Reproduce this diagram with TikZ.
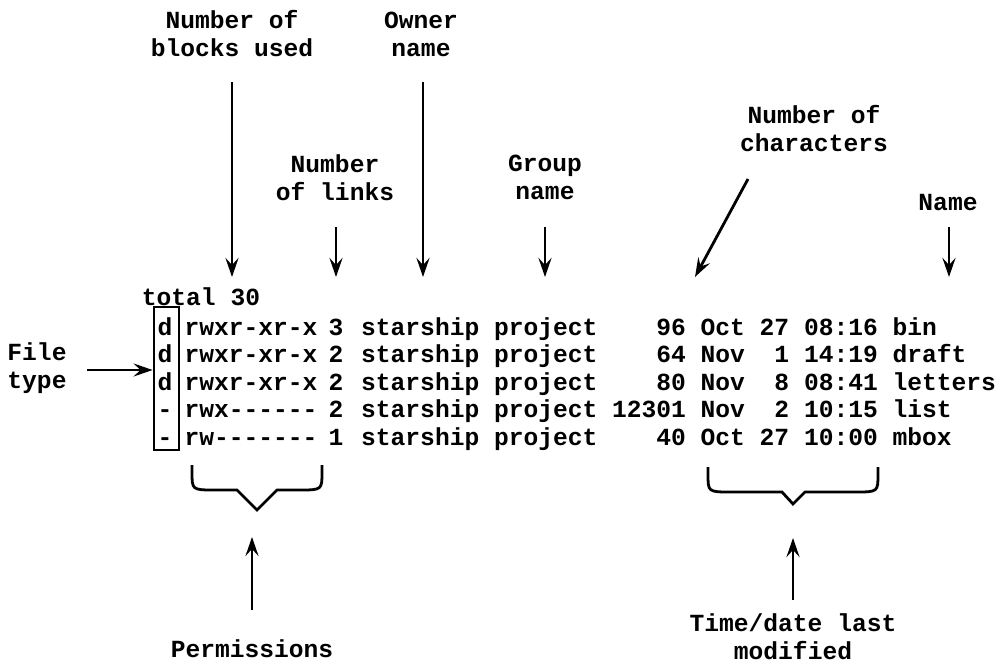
\documentclass[tikz,border=0pt]{standalone}
\usepackage{fontspec}
\setmonofont{Liberation Mono}
\usetikzlibrary{arrows.meta}
\frenchspacing
\tikzset{
  mono/.style={font=\ttfamily\bfseries\fontsize{24.6}{28}\selectfont, inner sep=0pt, text=black},
  note/.style={mono, align=center},
  cell/.style={mono, anchor=base},
  row/.style={mono, anchor=base west},
  arr/.style={line width=2.8pt, -{Stealth[length=19pt,width=13pt,inset=7pt]}},
  bracket/.style={line width=2.8pt},
  typebox/.style={draw, line width=2.8pt, minimum width=25pt, minimum height=143pt, inner sep=0pt}
}
\begin{document}
\begin{tikzpicture}[x=1pt,y=-1pt]
\useasboundingbox (0,0) rectangle (1005,666);

% column captions
\node[note] (lblBlocks) at (232,34)  {Number of\\blocks used};
\node[note] (lblOwner)  at (421,34)  {Owner\\name};
\node[note] (lblLinks)  at (335,178) {Number\\of links};
\node[note] (lblGroup)  at (545,177) {Group\\name};
\node[note] (lblChars)  at (814,129) {Number of\\characters};
\node[note] (lblName)   at (948,203) {Name};
\node[note] (lblType)   at (37,368)  {File\\type};
\node[note] (lblPerm)   at (252,649) {Permissions};
\node[note] (lblTime)   at (793,637) {Time/date last\\modified};

% ls -l listing
\node[cell] (tot) at (201,305) {total 30};

\node[cell] (ft1) at (165,335)   {d};
\node[cell] (ft2) at (165,362.5) {d};
\node[cell] (ft3) at (165,390)   {d};
\node[cell] (ft4) at (165,417.5) {-};
\node[cell] (ft5) at (165,445)   {-};

\node[cell] (pm1) at (251,335)   {rwxr-xr-x};
\node[cell] (pm2) at (251,362.5) {rwxr-xr-x};
\node[cell] (pm3) at (251,390)   {rwxr-xr-x};
\node[cell] (pm4) at (251,417.5) {rwx------};
\node[cell] (pm5) at (251,445)   {rw-------};

\node[cell] (lk1) at (336,335)   {3};
\node[cell] (lk2) at (336,362.5) {2};
\node[cell] (lk3) at (336,390)   {2};
\node[cell] (lk4) at (336,417.5) {2};
\node[cell] (lk5) at (336,445)   {1};

\node[row] (rs1) at (361,335)   {starship~project~~~~96~Oct~27~08:16~bin};
\node[row] (rs2) at (361,362.5) {starship~project~~~~64~Nov~~1~14:19~draft};
\node[row] (rs3) at (361,390)   {starship~project~~~~80~Nov~~8~08:41~letters};
\node[row] (rs4) at (361,417.5) {starship~project~12301~Nov~~2~10:15~list};
\node[row] (rs5) at (361,445)   {starship~project~~~~40~Oct~27~10:00~mbox};

% box round the file-type column
\node[typebox] (typeframe) at (166.5,378.5) {};

% arrow ends
\coordinate (blkFrom) at (232,82);  \coordinate (blkTo) at (232,277);
\coordinate (ownFrom) at (423,82);  \coordinate (ownTo) at (423,277);
\coordinate (lnkFrom) at (336,227); \coordinate (lnkTo) at (336,277);
\coordinate (grpFrom) at (545,227); \coordinate (grpTo) at (545,277);
\coordinate (chrFrom) at (748,179); \coordinate (chrTo) at (695,277);
\coordinate (namFrom) at (949,227); \coordinate (namTo) at (949,277);
\coordinate (typFrom) at (87,370);
\coordinate (prmFrom) at (252,610); \coordinate (prmTo) at (252,537);
\coordinate (timFrom) at (793,600); \coordinate (timTo) at (793,538);

\draw[arr] (blkFrom) -- (blkTo);
\draw[arr] (ownFrom) -- (ownTo);
\draw[arr] (lnkFrom) -- (lnkTo);
\draw[arr] (grpFrom) -- (grpTo);
\draw[arr] (chrFrom) -- (chrTo);
\draw[arr] (namFrom) -- (namTo);
\draw[arr] (typFrom) -- (typFrom -| typeframe.west);
\draw[arr] (prmFrom) -- (prmTo);
\draw[arr] (timFrom) -- (timTo);

% braces under permissions and under date/time
\draw[bracket] (192,465) -- (192,472) .. controls (192,490) .. (215,490)
  -- (237,490) -- (257,510) -- (277,490) -- (299,490)
  .. controls (322,490) .. (322,472) -- (322,465);
\draw[bracket] (708,467) -- (708,474) .. controls (708,492) .. (731,492)
  -- (782,492) -- (793,504) -- (805,492) -- (855,492)
  .. controls (878,492) .. (878,474) -- (878,467);
\end{tikzpicture}
\end{document}
